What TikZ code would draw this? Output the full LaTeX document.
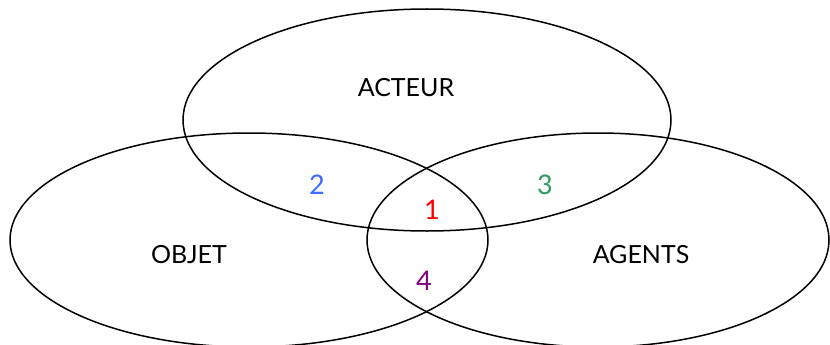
\documentclass[tikz,border=0pt]{standalone}
\usepackage{fontspec}
\setmainfont{Lato}
\definecolor{numblue}{HTML}{3D6BFF}
\definecolor{numgreen}{HTML}{2E9A5E}
\definecolor{numred}{HTML}{FF0000}
\definecolor{numpurple}{HTML}{800080}
\begin{document}
\begin{tikzpicture}[x=1pt,y=-1pt,
  setline/.style={line width=1.5pt,black},
  setlabel/.style={font=\fontsize{25}{28}\selectfont,inner sep=0pt},
  numlabel/.style={font=\fontsize{27}{30}\selectfont,inner sep=0pt}]
\useasboundingbox (0,0) rectangle (830,345);
\begin{scope}
\clip (0,0) rectangle (830,345);
\draw[setline] (427,120) ellipse [x radius=244, y radius=111];
\draw[setline] (249,240) ellipse [x radius=239, y radius=107];
\draw[setline] (598,240) ellipse [x radius=231, y radius=107];
\end{scope}
\node[setlabel] (acteur) at (406,88) {ACTEUR};
\node[setlabel] (objet) at (189,255) {OBJET};
\node[setlabel] (agents) at (641,255) {AGENTS};
\node[numlabel,text=numblue] (n2) at (317,185) {2};
\node[numlabel,text=numgreen] (n3) at (545,185) {3};
\node[numlabel,text=numred] (n1) at (432,210) {1};
\node[numlabel,text=numpurple] (n4) at (424,281) {4};
\end{tikzpicture}
\end{document}
